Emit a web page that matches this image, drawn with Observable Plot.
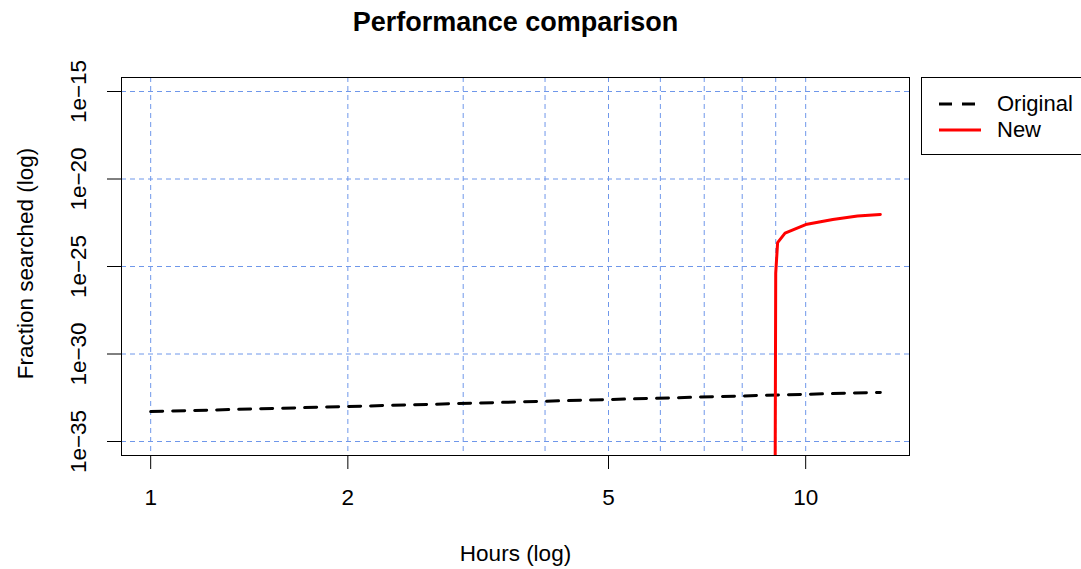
<!DOCTYPE html>
<html>
<head>
<meta charset="utf-8">
<script src="https://cdn.jsdelivr.net/npm/d3@7"></script>
<script src="https://cdn.jsdelivr.net/npm/@observablehq/plot@0.6"></script>
<style>
  html, body { margin: 0; padding: 0; background: #fff; }
  #wrap { position: relative; width: 1081px; height: 569px; overflow: hidden; font-family: "Liberation Sans", Arial, Helvetica, sans-serif; }
  #legend { position: absolute; left: 921px; top: 77px; width: 200px; height: 78px; border: 1px solid #000; box-sizing: border-box; background: #fff; }
  .row { position: absolute; left: 0; height: 26px; display: flex; align-items: center; font-size: 22px; color: #000; }
  .row svg { margin-left: 17px; margin-right: 16px; }
</style>
</head>
<body>
<div id="wrap"></div>
<script>
// ---- data ----
const title = "Performance comparison";
const xLabel = "Hours (log)";
const yLabel = "Fraction searched (log)";
const seriesNames = ["Original", "New"];
const seriesColors = ["#000000", "#ff0000"];

const hoursOriginal = [1, 2, 5, 10, 13];
const fracOriginal = [5.1e-34, 1.0e-33, 2.5e-33, 5.0e-33, 6.4e-33];

const hoursNew = [8.97, 9.0, 9.06, 9.3, 10, 11, 12, 13];
const fracNew = [1e-45, 4e-26, 2.3e-24, 8e-24, 2.5e-23, 4.9e-23, 7.6e-23, 9.5e-23];

const xTicks = [1, 2, 5, 10];
const xTickLabels = ["1", "2", "5", "10"];
const xGrid = [1, 2, 3, 4, 5, 6, 7, 8, 9, 10];
const yTicks = [1e-35, 1e-30, 1e-25, 1e-20, 1e-15];
const yTickLabels = ["1e\u221235", "1e\u221230", "1e\u221225", "1e\u221220", "1e\u221215"];
const xlim = [1, 13];
const ylim = [1e-35, 1e-15];

// ---- build ----
const original = hoursOriginal.map((h, i) => ({h, v: fracOriginal[i]}));
const newer = hoursNew.map((h, i) => ({h, v: fracNew[i]}));
const yTickData = yTicks.map((v, i) => ({v, label: yTickLabels[i]}));

// R-style 4% log expansion
function expandLog([a, b]) {
  const la = Math.log10(a), lb = Math.log10(b), d = (lb - la) * 0.04;
  return [Math.pow(10, la - d), Math.pow(10, lb + d)];
}

const font = "Liberation Sans, Arial, Helvetica, sans-serif";
const gridColor = "#6f97ea";
const base = 22.5;

const chart = Plot.plot({
  width: 1081,
  height: 569,
  marginLeft: 121,
  marginRight: 172,
  marginTop: 77,
  marginBottom: 114,
  style: {fontFamily: font, fontSize: base + "px", background: "transparent", color: "#000"},
  x: {type: "log", domain: expandLog(xlim)},
  y: {type: "log", domain: expandLog(ylim)},
  marks: [
    Plot.gridX(xGrid, {stroke: gridColor, strokeOpacity: 1, strokeDasharray: "5,4", strokeWidth: 1}),
    Plot.gridY(yTicks, {stroke: gridColor, strokeOpacity: 1, strokeDasharray: "5,4", strokeWidth: 1}),
    Plot.axisX(xTicks, {tickSize: 14, tickPadding: 20, tickFormat: (d) => xTickLabels[xTicks.indexOf(d)], label: null, fontSize: base, stroke: "#000"}),
    Plot.axisY(yTicks, {tickSize: 14, tickFormat: () => "", label: null}),
    Plot.text(yTickData, {y: "v", text: "label", frameAnchor: "left", textAnchor: "middle", lineAnchor: "middle", dx: -43, rotate: -90, fontSize: base, fill: "#000"}),
    Plot.line(original, {x: "h", y: "v", stroke: seriesColors[0], strokeWidth: 3, strokeDasharray: "12,10", clip: true}),
    Plot.line(newer, {x: "h", y: "v", stroke: seriesColors[1], strokeWidth: 3, clip: true}),
    Plot.frame({stroke: "#000", strokeWidth: 1}),
    Plot.text([title], {frameAnchor: "top", lineAnchor: "middle", dy: -55, fontWeight: "bold", fontSize: 27, fill: "#000"}),
    Plot.text([xLabel], {frameAnchor: "bottom", lineAnchor: "middle", dy: 98, fontSize: base, fill: "#000"}),
    Plot.text([yLabel], {frameAnchor: "left", textAnchor: "middle", lineAnchor: "middle", dx: -96, dy: -3, rotate: -90, fontSize: base, fill: "#000"})
  ]
});

const wrap = document.getElementById("wrap");
wrap.appendChild(chart);

// legend
const legend = document.createElement("div");
legend.id = "legend";
const styles = [{dash: "13,10"}, {dash: null}];
seriesNames.forEach((name, i) => {
  const row = document.createElement("div");
  row.className = "row";
  row.style.top = (13 + i * 26) + "px";
  const dash = styles[i].dash ? `stroke-dasharray="${styles[i].dash}"` : "";
  row.innerHTML = `<svg width="42" height="6"><line x1="0" y1="3" x2="42" y2="3" stroke="${seriesColors[i]}" stroke-width="3" ${dash}/></svg><span>${name}</span>`;
  legend.appendChild(row);
});
wrap.appendChild(legend);
</script>
</body>
</html>
